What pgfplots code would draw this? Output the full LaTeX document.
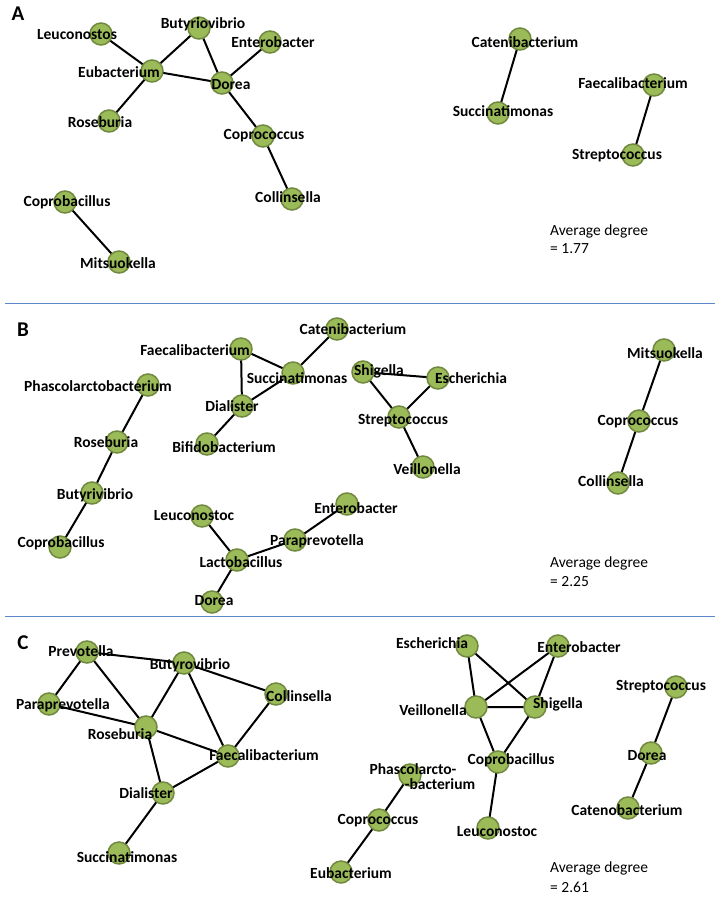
\documentclass[border=0pt]{standalone}
\usepackage{pgfplots}
\pgfplotsset{compat=1.18}
\usepackage{pgfplotstable}
\usepackage{fontspec}
\setmainfont{Carlito}
\definecolor{nodegreen}{HTML}{9BBB59}
\definecolor{nodeborder}{HTML}{71893F}
\definecolor{sepblue}{HTML}{5B87C8}
\newcommand{\lbl}{\bfseries\fontsize{15.5bp}{18bp}\selectfont}
\newcommand{\reg}{\fontsize{15.5bp}{18bp}\selectfont}

% node positions (pixels, y downward)
\pgfplotstableread{
x y
101 34
199 28
270 42
152 71
222 83
109 121
263 136
292 199
65 202
119 262
520 39
498 113
654 85
633 155
337 329
241 349
293 373
148 385
242 406
117 442
207 444
92 493
202 516
347 504
295 540
60 547
237 560
212 602
363 372
438 378
399 417
423 467
664 350
639 421
618 483
87 652
184 663
276 694
49 704
146 727
228 756
163 793
119 853
341 872
379 820
410 775
467 646
558 646
476 707
535 707
498 762
488 828
676 687
651 753
628 808
}\nodestab

% label positions
\pgfplotstableread{
x y label
77 35 Leuconostos
203 24 Butyriovibrio
273 42 Enterobacter
119 72 Eubacterium
231 85 Dorea
100 122 Roseburia
264 136 Coprococcus
288 197 Collinsella
67 202 Coprobacillus
118 263 Mitsuokella
525 42 Catenibacterium
503 111 Succinatimonas
633 83 Faecalibacterium
617 156 Streptococcus
353 329 Catenibacterium
195 350 Faecalibacterium
297 378 Succinatimonas
98 386 Phascolarctobacterium
232 406 Dialister
106 442 Roseburia
224 447 Bifidobacterium
95 495 Butyrivibrio
194 516 Leuconostoc
356 508 Enterobacter
317 541 Paraprevotella
61 543 Coprobacillus
241 562 Lactobacillus
214 601 Dorea
379 371 Shigella
471 378 Escherichia
403 421 Streptococcus
427 469 Veillonella
665 353 Mitsuokella
638 422 Coprococcus
611 481 Collinsella
81 651 Prevotella
190 665 Butyrovibrio
299 696 Collinsella
63 705 Paraprevotella
120 734 Roseburia
264 755 Faecalibacterium
146 793 Dialister
127 857 Succinatimonas
351 873 Eubacterium
378 821 Coprococcus
413 769 Phascolarcto-
440 784 -bacterium
432 643 Escherichia
579 647 Enterobacter
433 710 Veillonella
558 704 Shigella
511 760 Coprobacillus
497 832 Leuconostoc
661 687 Streptococcus
647 756 Dorea
627 810 Catenobacterium
}\labeltab

% edges (pairs separated by nan rows)
\pgfplotstableread{
x y
101 34
152 71
nan nan
199 28
152 71
nan nan
199 28
222 83
nan nan
152 71
222 83
nan nan
270 42
222 83
nan nan
152 71
109 121
nan nan
222 83
263 136
nan nan
263 136
292 199
nan nan
65 202
119 262
nan nan
520 39
498 113
nan nan
654 85
633 155
nan nan
337 329
293 373
nan nan
241 349
293 373
nan nan
241 349
242 406
nan nan
293 373
242 406
nan nan
242 406
207 444
nan nan
363 372
438 378
nan nan
363 372
399 417
nan nan
438 378
399 417
nan nan
399 417
423 467
nan nan
148 385
117 442
nan nan
117 442
92 493
nan nan
92 493
60 547
nan nan
664 350
639 421
nan nan
639 421
618 483
nan nan
202 516
237 560
nan nan
347 504
295 540
nan nan
295 540
237 560
nan nan
237 560
212 602
nan nan
87 652
49 704
nan nan
87 652
146 727
nan nan
87 652
184 663
nan nan
184 663
146 727
nan nan
184 663
228 756
nan nan
184 663
276 694
nan nan
49 704
146 727
nan nan
146 727
228 756
nan nan
146 727
163 793
nan nan
163 793
228 756
nan nan
276 694
228 756
nan nan
163 793
119 853
nan nan
410 775
379 820
nan nan
379 820
341 872
nan nan
467 646
476 707
nan nan
467 646
535 707
nan nan
558 646
476 707
nan nan
558 646
535 707
nan nan
476 707
535 707
nan nan
476 707
498 762
nan nan
535 707
498 762
nan nan
498 762
488 828
nan nan
676 687
651 753
nan nan
651 753
628 808
}\edgetab

\begin{document}
\begin{tikzpicture}
\begin{axis}[
  width=720bp, height=897bp, scale only axis, hide axis,
  xmin=0, xmax=720, ymin=0, ymax=897, y dir=reverse, clip=false]
\path (rel axis cs:0,0) rectangle (rel axis cs:1,1);
% separators
\addplot[color=sepblue, line width=1bp, forget plot] coordinates {(5,303) (715,303)};
\addplot[color=sepblue, line width=1bp, forget plot] coordinates {(5,616) (715,616)};
% edges
\addplot[black, line width=2bp, unbounded coords=jump, mark=none] table[x=x,y=y] {\edgetab};
% nodes
\addplot[only marks, mark=*, mark size=11bp,
  mark options={fill=nodegreen, draw=nodeborder, line width=1.5bp}] table[x=x,y=y] {\nodestab};
% labels
\addplot[only marks, mark=none, point meta=explicit symbolic, nodes near coords,
  every node near coord/.append style={anchor=center, inner sep=0pt, font=\lbl, text=black}]
  table[x=x,y=y,meta=label] {\labeltab};
% panel letters
\node[font=\bfseries\fontsize{21bp}{24bp}\selectfont] at (axis cs:18,14) {A};
\node[font=\bfseries\fontsize{21bp}{24bp}\selectfont] at (axis cs:23,330) {B};
\node[font=\bfseries\fontsize{21bp}{24bp}\selectfont] at (axis cs:23,643) {C};
% average degree
\node[font=\reg, anchor=west, inner sep=0pt] at (axis cs:550,231) {Average degree};
\node[font=\reg, anchor=west, inner sep=0pt] at (axis cs:550,249) {= 1.77};
\node[font=\reg, anchor=west, inner sep=0pt] at (axis cs:550,563) {Average degree};
\node[font=\reg, anchor=west, inner sep=0pt] at (axis cs:550,582) {= 2.25};
\node[font=\reg, anchor=west, inner sep=0pt] at (axis cs:550,868) {Average degree};
\node[font=\reg, anchor=west, inner sep=0pt] at (axis cs:550,887) {= 2.61};
\end{axis}
\end{tikzpicture}
\end{document}
